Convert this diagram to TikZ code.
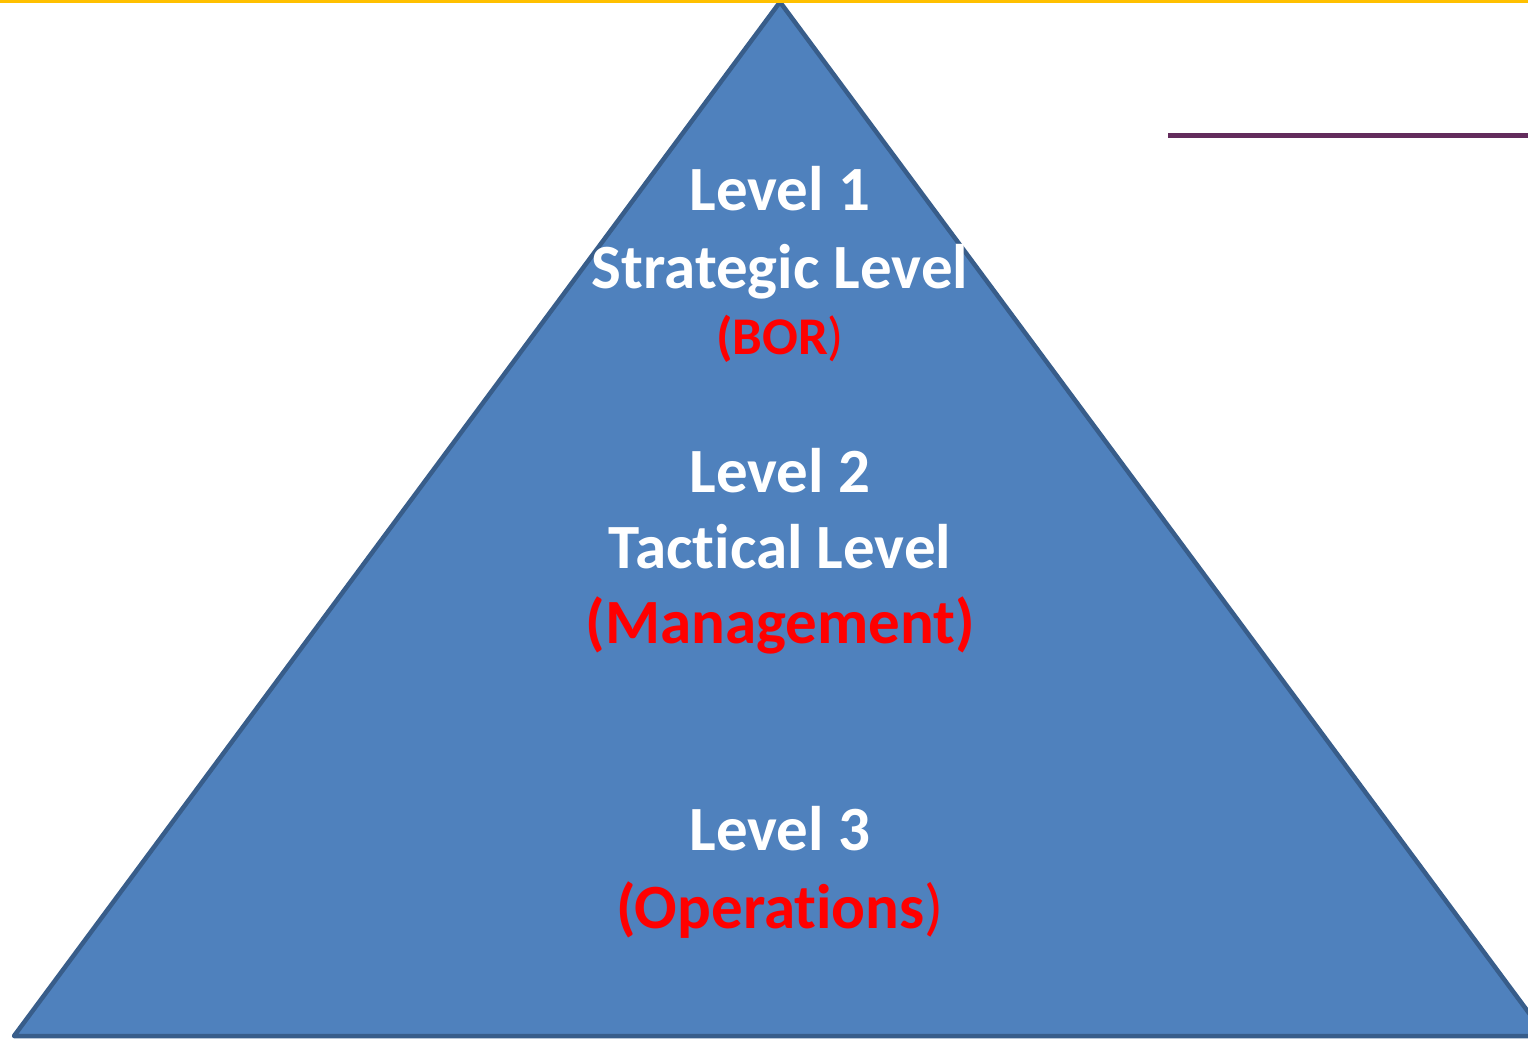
\documentclass[tikz,border=0pt]{standalone}
\usepackage{fontspec}
\setmainfont[Ligatures={NoCommon}]{Carlito}
\definecolor{pyrfill}{HTML}{4F81BD}
\definecolor{pyredge}{HTML}{385D8A}
\definecolor{topbar}{HTML}{FFC000}
\definecolor{sidebar}{HTML}{632C5C}
\definecolor{lvlred}{HTML}{FF0000}
% keep "t" and "i" as separate glyphs
\newcommand{\tsep}{t\kern0pt i}
\begin{document}
\begin{tikzpicture}[x=1pt,y=-1pt,
  lvl/.style={anchor=base,inner sep=0pt,text=white,font=\fontsize{63}{75}\selectfont\bfseries},
  lvlnote/.style={lvl,text=lvlred}]
\useasboundingbox (0,0) rectangle (1528,1039);
\clip (0,0) rectangle (1528,1039);
% pyramid
\coordinate (apex) at (780,2);
\coordinate (bl) at (14,1036);
\coordinate (br) at (1546,1036);
\filldraw[fill=pyrfill,draw=pyredge,line width=4.5pt,line join=round] (apex) -- (bl) -- (br) -- cycle;
% rules
\draw[topbar,line width=3pt] (0,1.5) -- (1528,1.5);
\draw[sidebar,line width=5pt] (1168,135) -- (1528,135);
% level labels
\node[lvl] (l1) at (780,210) {Level 1};
\node[lvl] (l1b) at (780,288) {Strategic Level};
\node[lvlnote,font=\fontsize{53}{64}\selectfont\bfseries] (l1c) at (780,354) {(BOR\mdseries)};
\node[lvl] (l2) at (780,492) {Level 2};
\node[lvl] (l2b) at (780,568) {Tac\tsep cal Level};
\node[lvlnote] (l2c) at (780,643) {(Management)};
\node[lvl] (l3) at (780,850) {Level 3};
\node[lvlnote] (l3c) at (780,928) {(Opera\tsep ons\mdseries)};
\end{tikzpicture}
\end{document}
